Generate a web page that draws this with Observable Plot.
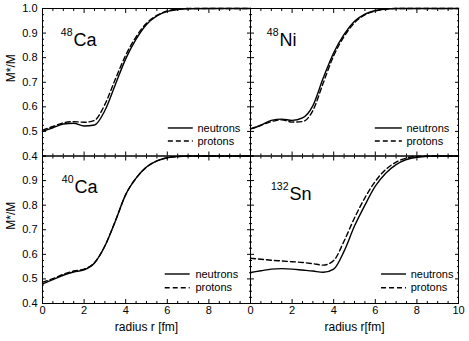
<!DOCTYPE html>
<html><head><meta charset="utf-8">
<script src="https://cdn.jsdelivr.net/npm/d3@7"></script>
<script src="https://cdn.jsdelivr.net/npm/@observablehq/plot@0.6"></script>
<style>
body{margin:0;background:#fff;}
#fig{position:relative;width:469px;height:341px;}
#fig svg{position:absolute;left:0;top:0;}
</style></head><body><div id="fig"></div>
<script>
// ---- data ----
const radius        = [0, 0.5, 1, 1.5, 2, 2.5, 3, 3.5, 4, 4.5, 5, 5.5, 6, 6.5, 7, 8, 9, 10];
const ca48Neutrons  = [0.500,0.515,0.530,0.533,0.522,0.526,0.585,0.690,0.795,0.875,0.935,0.970,0.988,0.996,0.999,1.0,1.0,1.0];
const ca48Protons   = [0.505,0.520,0.535,0.540,0.537,0.545,0.610,0.712,0.810,0.885,0.940,0.972,0.990,0.997,1.0,1.0,1.0,1.0];
const ni48Neutrons  = [0.510,0.525,0.545,0.550,0.545,0.555,0.605,0.718,0.820,0.895,0.948,0.977,0.992,0.998,1.0,1.0,1.0,1.0];
const ni48Protons   = [0.510,0.525,0.540,0.547,0.538,0.540,0.585,0.698,0.808,0.886,0.942,0.974,0.990,0.997,1.0,1.0,1.0,1.0];
const ca40Neutrons  = [0.480,0.497,0.515,0.528,0.537,0.565,0.634,0.735,0.843,0.910,0.955,0.980,0.993,0.998,1.0,1.0,1.0,1.0];
const ca40Protons   = [0.487,0.501,0.519,0.532,0.540,0.566,0.634,0.735,0.843,0.910,0.955,0.980,0.993,0.998,1.0,1.0,1.0,1.0];
const sn132Neutrons = [0.526,0.533,0.540,0.542,0.540,0.536,0.532,0.527,0.540,0.613,0.715,0.800,0.877,0.930,0.965,0.995,1.0,1.0];
const sn132Protons  = [0.584,0.580,0.576,0.573,0.570,0.567,0.562,0.556,0.575,0.654,0.748,0.830,0.897,0.945,0.975,0.998,1.0,1.0];

const xTickLabelsLeft   = [0, 2, 4, 6, 8];
const xTickLabelsRight  = [0, 2, 4, 6, 8, 10];
const yTickLabelsTop    = [0.4, 0.5, 0.6, 0.7, 0.8, 0.9, 1.0];
const yTickLabelsBottom = [0.4, 0.5, 0.6, 0.7, 0.8, 0.9];
const xMajorTicks = [0, 2, 4, 6, 8, 10];
const yMajorTicks = [0.4, 0.5, 0.6, 0.7, 0.8, 0.9, 1.0];
const xMinorTicks = d3.range(0, 10.001, 0.5).filter(v => Math.abs(v / 2 - Math.round(v / 2)) > 1e-6);
const yMinorTicks = d3.range(0.4, 1.0001, 0.025).filter(v => Math.abs(v * 10 - Math.round(v * 10)) > 1e-6);
const seriesNames = ["neutrons", "protons"];

// ---- layout ----
const W = 469, H = 341;
const X0 = 42, XM = 250, X1 = 458, Y0 = 8, YM = 155.5, Y1 = 303;
const FONT = "'Liberation Sans', Arial, Helvetica, sans-serif";

function panel(o) {
  const ml = o.col === 0 ? X0 : XM, mr = W - (o.col === 0 ? XM : X1);
  const mt = o.row === 0 ? Y0 : YM, mb = H - (o.row === 0 ? YM : Y1);
  const rows = radius.map((r, i) => ({r, n: o.neutrons[i], p: o.protons[i]}));
  const marks = [
    Plot.line(rows, {x: "r", y: "n", stroke: "black", strokeWidth: 1.4, curve: "monotone-x"}),
    Plot.line(rows, {x: "r", y: "p", stroke: "black", strokeWidth: 1.4, strokeDasharray: "5,3", curve: "monotone-x"}),
    Plot.frame({stroke: "black", strokeWidth: 1}),
  ];
  for (const a of ["top", "bottom"]) {
    marks.push(Plot.axisX(xMajorTicks, {anchor: a, tickSize: -4, fill: "none", label: null}));
    marks.push(Plot.axisX(xMinorTicks, {anchor: a, tickSize: -2, fill: "none", label: null}));
  }
  for (const a of ["left", "right"]) {
    marks.push(Plot.axisY(yMajorTicks, {anchor: a, tickSize: -4, fill: "none", label: null}));
    marks.push(Plot.axisY(yMinorTicks, {anchor: a, tickSize: -2, fill: "none", label: null}));
  }
  if (o.col === 0) {
    marks.push(Plot.axisY(o.yLabels, {anchor: "left", tickSize: 0, tickPadding: 5, tickFormat: d3.format(".1f"), label: null, fill: "black", fontSize: 11}));
    marks.push(Plot.text(["M*/M"], {frameAnchor: "left", dx: -31, rotate: -90, fontSize: 12, fill: "black"}));
  }
  if (o.row === 1) {
    marks.push(Plot.axisX(o.xLabels, {anchor: "bottom", tickSize: 0, tickPadding: 3, tickFormat: d3.format("d"), label: null, fill: "black", fontSize: 11}));
    marks.push(Plot.text([o.xTitle], {frameAnchor: "bottom", dy: 27, fontSize: 12, fill: "black"}));
  }
  // nuclide label
  marks.push(Plot.text([o.mass], {frameAnchor: "top-left", dx: o.ldx, dy: o.ldy, textAnchor: "end", lineAnchor: "top", fontSize: 10.5, fill: "black"}));
  marks.push(Plot.text([o.sym], {frameAnchor: "top-left", dx: o.ldx + 1, dy: o.ldy + 4.5, textAnchor: "start", lineAnchor: "top", fontSize: 18, fill: "black"}));
  // legend
  const ly = o.row === 0 ? [0.514, 0.461] : [0.520, 0.464];
  marks.push(Plot.ruleY([ly[0]], {x1: o.lx[0], x2: o.lx[1], stroke: "black", strokeWidth: 1.4}));
  marks.push(Plot.ruleY([ly[1]], {x1: o.lx[0], x2: o.lx[1], stroke: "black", strokeWidth: 1.4, strokeDasharray: "5,3"}));
  marks.push(Plot.text(seriesNames, {x: o.lx[2], y: (d, i) => ly[i], textAnchor: "start", fontSize: 11, fill: "black"}));

  return Plot.plot({
    width: W, height: H,
    marginLeft: ml, marginRight: mr, marginTop: mt, marginBottom: mb,
    x: {domain: [0, 10]},
    y: {domain: [0.4, 1.0]},
    style: {background: "transparent", fontFamily: FONT, fontSize: "11px", overflow: "visible"},
    marks
  });
}

const fig = document.getElementById("fig");
fig.append(panel({col: 0, row: 0, neutrons: ca48Neutrons, protons: ca48Protons, mass: "48", sym: "Ca",
  ldx: 30, ldy: 20, lx: [6.05, 7.25, 7.45], yLabels: yTickLabelsTop}));
fig.append(panel({col: 1, row: 0, neutrons: ni48Neutrons, protons: ni48Protons, mass: "48", sym: "Ni",
  ldx: 28, ldy: 20, lx: [6.0, 7.3, 7.5]}));
fig.append(panel({col: 0, row: 1, neutrons: ca40Neutrons, protons: ca40Protons, mass: "40", sym: "Ca",
  ldx: 31, ldy: 19.5, lx: [5.9, 7.1, 7.35], yLabels: yTickLabelsBottom, xLabels: xTickLabelsLeft, xTitle: "radius r [fm]"}));
fig.append(panel({col: 1, row: 1, neutrons: sn132Neutrons, protons: sn132Protons, mass: "132", sym: "Sn",
  ldx: 38, ldy: 27, lx: [6.3, 7.5, 7.7], xLabels: xTickLabelsRight, xTitle: "radius r[fm]"}));
</script>
</body></html>
